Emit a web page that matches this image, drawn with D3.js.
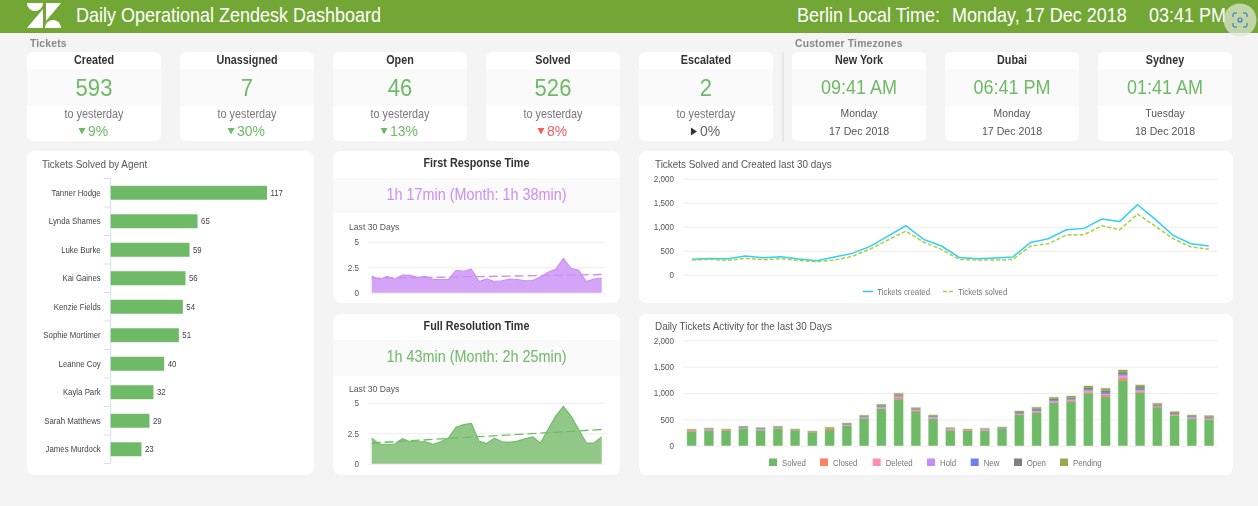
<!DOCTYPE html>
<html><head><meta charset="utf-8">
<script src="https://cdn.jsdelivr.net/npm/d3@7"></script>
<style>
html,body{margin:0;padding:0;background:#f4f4f4;overflow:hidden}
svg{display:block;font-family:"Liberation Sans",Arial,sans-serif;filter:blur(.35px)}
.domain{display:none}
</style></head><body>
<svg id="c" width="1258" height="506"></svg>
<script>
const ticketCards = ["Created","Unassigned","Open","Solved","Escalated"];
const ticketValues = [593,7,46,526,2];
const ticketChanges = [9,30,13,8,0];
const ticketTrend = ["downGood","downGood","downGood","downBad","flat"];
const zoneCards = ["New York","Dubai","Sydney"];
const zoneTimes = ["09:41 AM","06:41 PM","01:41 AM"];
const zoneDays = ["Monday","Monday","Tuesday"];
const zoneDates = ["17 Dec 2018","17 Dec 2018","18 Dec 2018"];

const agents = ["Tanner Hodge","Lynda Shames","Luke Burke","Kai Gaines","Kenzie Fields","Sophie Mortimer","Leanne Coy","Kayla Park","Sarah Matthews","James Murdock"];
const agentSolved = [117,65,59,56,54,51,40,32,29,23];

const firstResponse = [1.63,1.3,1.6,1.35,1.73,1.7,1.5,1.6,1.3,1.3,1.3,2.2,2.1,2.3,1.1,1.35,1.1,1.17,1.35,1.3,1.17,1.2,1.55,2.0,2.3,3.35,2.4,2.2,1.1,1.35,1.43];
const firstTrend = [1.4,1.78];
const fullResolution = [2.1,1.6,1.6,1.6,2.05,1.8,1.8,1.8,1.6,1.8,2.1,3.0,3.2,3.3,1.85,1.65,2.1,1.8,1.75,1.85,2.05,2.2,1.7,2.8,3.9,4.7,3.9,2.8,1.7,1.7,2.2];
const fullTrend = [1.7,2.8];
const smallTicks = [0,2.5,5];

const ticketsCreated = [320,340,333,389,354,375,326,292,368,444,590,805,1020,735,597,360,333,347,368,673,750,937,965,1159,1110,1457,1152,819,645,597];
const ticketsSolved = [305,320,298,340,312,333,298,270,305,382,534,722,909,680,527,319,305,305,319,597,645,826,833,1020,937,1263,1013,750,576,534];
const bigTicks = [0,500,1000,1500,2000];

const statusNames = ["Solved","Closed","Deleted","Hold","New","Open","Pending"];
const statusColors = ["#6fba67","#ff8066","#ff8fb0","#c88cf5","#6f81e8","#808080","#9ba84e"];
const solved  = [266,285,285,323,291,323,291,253,297,373,513,696,880,639,506,291,285,285,316,582,620,810,829,994,930,1241,1006,715,563,506,487];
const closed  = [20,10,18,4,6,6,10,12,25,8,10,12,25,22,12,8,12,4,3,12,16,14,16,18,36,40,22,18,12,8,14];
const deleted = [2,6,1,4,8,6,1,1,2,6,6,12,15,8,12,12,3,12,3,6,12,12,14,20,8,32,16,6,8,12,8];
const hold    = [2,10,1,8,10,6,1,1,2,10,10,15,15,12,12,14,3,14,4,8,14,14,16,16,10,20,12,6,8,12,8];
const newT    = [2,8,1,10,12,8,1,1,2,10,12,15,15,12,12,5,3,3,6,14,18,16,14,15,34,22,30,20,14,14,14];
const openT   = [2,4,2,6,7,6,4,2,4,8,10,15,22,14,13,4,4,3,12,16,22,26,26,32,26,40,28,14,15,14,20];
const pending = [16,12,8,12,8,12,8,8,16,15,15,20,22,15,15,8,6,8,10,20,26,26,28,38,45,42,38,25,26,16,19];
const statusSeries = [solved,closed,deleted,hold,newT,openT,pending];

const svg = d3.select("#c");
const GREEN="#6fba67", RED="#f45b5b", PURPLE="#cc8ff5";
const SQ=.9; // the reference text is horizontally condensed

function label(x,y,t,size,fill,anchor,weight){
  return svg.append("text").attr("transform",`translate(${x},${y}) scale(${SQ},1)`).attr("font-size",size).attr("fill",fill)
    .attr("text-anchor",anchor||"start").attr("font-weight",weight||400).text(t);
}
function squeezeTicks(g,size,fill){
  g.selectAll(".tick text").attr("font-size",size).attr("fill",fill).attr("font-family","Liberation Sans")
    .attr("x",function(){return +d3.select(this).attr("x")/SQ;}).attr("transform",`scale(${SQ},1)`);
}

// header
svg.append("rect").attr("width",1258).attr("height",33).attr("fill","#72a736");
const logo = svg.append("g").attr("fill","#fff");
logo.append("path").attr("d","M27 3H43A8 8 0 0 1 27 3Z");
logo.append("path").attr("d","M46 3H61L46 21Z");
logo.append("path").attr("d","M27 28L43 9V28Z");
logo.append("path").attr("d","M45 28A8 8 0 0 1 61 28Z");
const hdr = (x,t)=>label(x,21.5,t,20,"#fff");
hdr(76,"Daily Operational Zendesk Dashboard");
hdr(797,"Berlin Local Time:");
hdr(952,"Monday, 17 Dec 2018");
hdr(1149,"03:41 PM");

const sec = (x,t)=>label(x,46.5,t,11.5,"#888","start",700).attr("letter-spacing",.2);
sec(30,"Tickets"); sec(795,"Customer Timezones");

function panel(x,y,w,h,r){return svg.append("rect").attr("x",x).attr("y",y).attr("width",w).attr("height",h).attr("rx",r).attr("fill","#fff");}
const cardX = [27,180,333,486,639,792,945,1098];
function card(x,title){
  panel(x,52,134,89,6);
  svg.append("rect").attr("x",x).attr("y",69).attr("width",134).attr("height",37).attr("fill","#fafafa");
  label(x+67,64,title,12,"#333","middle",700);
}
ticketCards.forEach((t,i)=>{
  const x=cardX[i], cx=x+67;
  card(x,t);
  label(cx,96,ticketValues[i],24.5,GREEN,"middle");
  label(cx,118,"to yesterday",12,"#777","middle");
  const tr=ticketTrend[i];
  const col = tr==="downBad"?RED:tr==="flat"?"#666":GREEN;
  const pct = label(cx+4,136,ticketChanges[i]+"%",15.5,col,"middle");
  const w = pct.node().getComputedTextLength()*SQ;
  const ax = cx+4-w/2-6;
  const d = tr==="flat" ? `M${ax-3} 127.5L${ax+3} 131.5L${ax-3} 135.5Z` : `M${ax-3.5} 128L${ax+3.5} 128L${ax} 134.5Z`;
  svg.append("path").attr("d",d).attr("fill",tr==="flat"?"#333":col);
});
zoneCards.forEach((t,i)=>{
  const x=cardX[5+i], cx=x+67;
  card(x,t);
  label(cx,94,zoneTimes[i],20,GREEN,"middle");
  label(cx,117,zoneDays[i],11.5,"#555","middle");
  label(cx,135,zoneDates[i],11.8,"#555","middle");
});
svg.append("line").attr("x1",783).attr("x2",783).attr("y1",52).attr("y2",142).attr("stroke","#d8d8d8");

function gridAxis(scale,ticks,x0,x1,fmt,fs){
  const g=svg.append("g").attr("transform",`translate(${x0},0)`)
    .call(d3.axisLeft(scale).tickValues(ticks).tickSize(-(x1-x0)).tickPadding(9).tickFormat(fmt));
  g.selectAll(".tick line").attr("stroke","#eeeeee");
  squeezeTicks(g,fs,"#555");
  g.select(".domain").remove();
  return g;
}

// Agents
panel(27,151,287,324,8);
label(42,167.5,"Tickets Solved by Agent",11,"#555");
const xA=d3.scaleLinear().domain([0,117]).range([110.7,267]);
const yA=d3.scaleBand().domain(agents).range([178.5,463.5]).paddingInner(.51).paddingOuter(.255);
const axA=svg.append("g").attr("transform","translate(110.7,0)").call(d3.axisLeft(yA).tickSize(0).tickPadding(10));
squeezeTicks(axA,8.7,"#444");
svg.append("g").selectAll("line").data(d3.range(agents.length+1)).join("line")
  .attr("x1",104).attr("x2",110.7).attr("y1",i=>yA.range()[0]+i*yA.step()).attr("y2",i=>yA.range()[0]+i*yA.step()).attr("stroke","#d5dfee");
svg.append("line").attr("x1",110.7).attr("x2",110.7).attr("y1",178).attr("y2",463).attr("stroke","#d5dfee");
svg.append("g").selectAll("rect").data(agents).join("rect")
  .attr("x",xA(0)).attr("y",d=>yA(d)).attr("height",yA.bandwidth())
  .attr("width",(d,i)=>xA(agentSolved[i])-xA(0)).attr("fill",GREEN);
agents.forEach((d,i)=>label(xA(agentSolved[i])+3.5,yA(d)+yA.bandwidth()/2+3.2,agentSolved[i],8.7,"#444"));

// Small panels
function small(top,h,title,val,col,fill,data,trend,y5,y0,bandTop,bandH,titleY,valY,lastY){
  panel(333,top,287,h,8);
  label(476.5,titleY,title,12,"#333","middle",700);
  svg.append("rect").attr("x",333).attr("y",bandTop).attr("width",287).attr("height",bandH).attr("fill","#fafafa");
  label(476.5,valY,val,16,col,"middle");
  label(349,lastY,"Last 30 Days",9.6,"#555");
  const x=d3.scalePoint().domain(d3.range(data.length)).range([371.7,601.7]);
  const y=d3.scaleLinear().domain([0,5]).range([y0,y5]);
  gridAxis(y,smallTicks,368,605,d3.format("~g"),9);
  svg.append("path").attr("fill",fill).attr("d",d3.area().x((d,i)=>x(i)).y0(y(0)).y1(d=>y(d))(data));
  svg.append("path").attr("fill","none").attr("stroke",col).attr("stroke-width",1.1).attr("d",d3.line().x((d,i)=>x(i)).y(d=>y(d))(data));
  svg.append("path").attr("fill","none").attr("stroke",col).attr("stroke-width",1.4).attr("stroke-dasharray","9 4")
    .attr("d",d3.line().x((d,i)=>x(i*(data.length-1))).y(d=>y(d))(trend));
}
small(151,152,"First Response Time","1h 17min (Month: 1h 38min)",PURPLE,"#d4a4f7",firstResponse,firstTrend,241.7,292.7,178,35,167,200,229.5);
small(314,161,"Full Resolution Time","1h 43min (Month: 2h 25min)",GREEN,"#92c887",fullResolution,fullTrend,402.7,463.7,340,36,330,362,391.5);

// Line chart
panel(639,151,594,152,8);
label(655,167.5,"Tickets Solved and Created last 30 days",11,"#555");
const xL=d3.scalePoint().domain(d3.range(ticketsCreated.length)).range([683,1217.7]).padding(.5);
const yL=d3.scaleLinear().domain([0,2000]).range([274.7,178.7]);
gridAxis(yL,bigTicks,683,1217.7,d3.format(","),9);
const ln=d3.line().x((d,i)=>xL(i)).y(d=>yL(d));
svg.append("path").attr("fill","none").attr("stroke","#2fd0f5").attr("stroke-width",1.5).attr("d",ln(ticketsCreated));
svg.append("path").attr("fill","none").attr("stroke","#a9d13f").attr("stroke-width",1.5).attr("stroke-dasharray","4 2").attr("d",ln(ticketsSolved));
svg.append("line").attr("x1",862.7).attr("x2",873.3).attr("y1",291.5).attr("y2",291.5).attr("stroke","#2fd0f5").attr("stroke-width",1.5);
label(877.3,294.5,"Tickets created",8.7,"#777");
svg.append("line").attr("x1",943).attr("x2",953).attr("y1",291.5).attr("y2",291.5).attr("stroke","#a9d13f").attr("stroke-width",1.5).attr("stroke-dasharray","4 2");
label(958,294.5,"Tickets solved",8.7,"#777");

// Stacked chart
panel(639,314,594,161,8);
label(655,330,"Daily Tickets Activity for the last 30 Days",11,"#555");
const days=d3.range(solved.length);
const xB=d3.scaleBand().domain(days).range([683,1217.7]).paddingInner(.48).paddingOuter(.24);
const yB=d3.scaleLinear().domain([0,2000]).range([445.7,340.3]);
gridAxis(yB,bigTicks,683,1217.7,d3.format(","),9);
const rows=days.map(i=>Object.fromEntries(statusNames.map((n,k)=>[n,statusSeries[k][i]])));
const stack=d3.stack().keys(statusNames)(rows);
svg.append("g").selectAll("rect").data(days).join("rect")
  .attr("x",i=>xB(i)-.6).attr("width",xB.bandwidth()+1.2)
  .attr("y",i=>yB(stack[6][i][1])-.6).attr("height",i=>yB(0)-yB(stack[6][i][1])+.6).attr("fill","#cfe5ca");
svg.append("g").selectAll("g").data(stack).join("g").attr("fill",(d,i)=>statusColors[i])
  .selectAll("rect").data(d=>d).join("rect")
  .attr("x",(d,i)=>xB(i)).attr("width",xB.bandwidth())
  .attr("y",d=>yB(d[1])).attr("height",d=>yB(d[0])-yB(d[1]));
const legX=[769,820,872.7,927,970.7,1014,1060], legT=[782,833,885.7,940,983.7,1026.7,1073];
statusNames.forEach((n,i)=>{
  svg.append("rect").attr("x",legX[i]).attr("y",458.5).attr("width",8).attr("height",7.5).attr("fill",statusColors[i]);
  label(legT[i],465.5,n,8.7,"#777");
});

// capture overlay
svg.append("circle").attr("cx",1240).attr("cy",20).attr("r",16.5).attr("fill","#dfe8d6").attr("fill-opacity",.72);
const ic=svg.append("g").attr("fill","none").attr("stroke","#2b78c8").attr("stroke-width",1.1);
ic.append("path").attr("d","M1233 17V14.5Q1233 13 1234.5 13H1237M1243 13H1245.5Q1247 13 1247 14.5V17M1247 23V25.5Q1247 27 1245.5 27H1243M1237 27H1234.5Q1233 27 1233 25.5V23");
ic.append("circle").attr("cx",1240).attr("cy",20).attr("r",2);
</script>
</body></html>
